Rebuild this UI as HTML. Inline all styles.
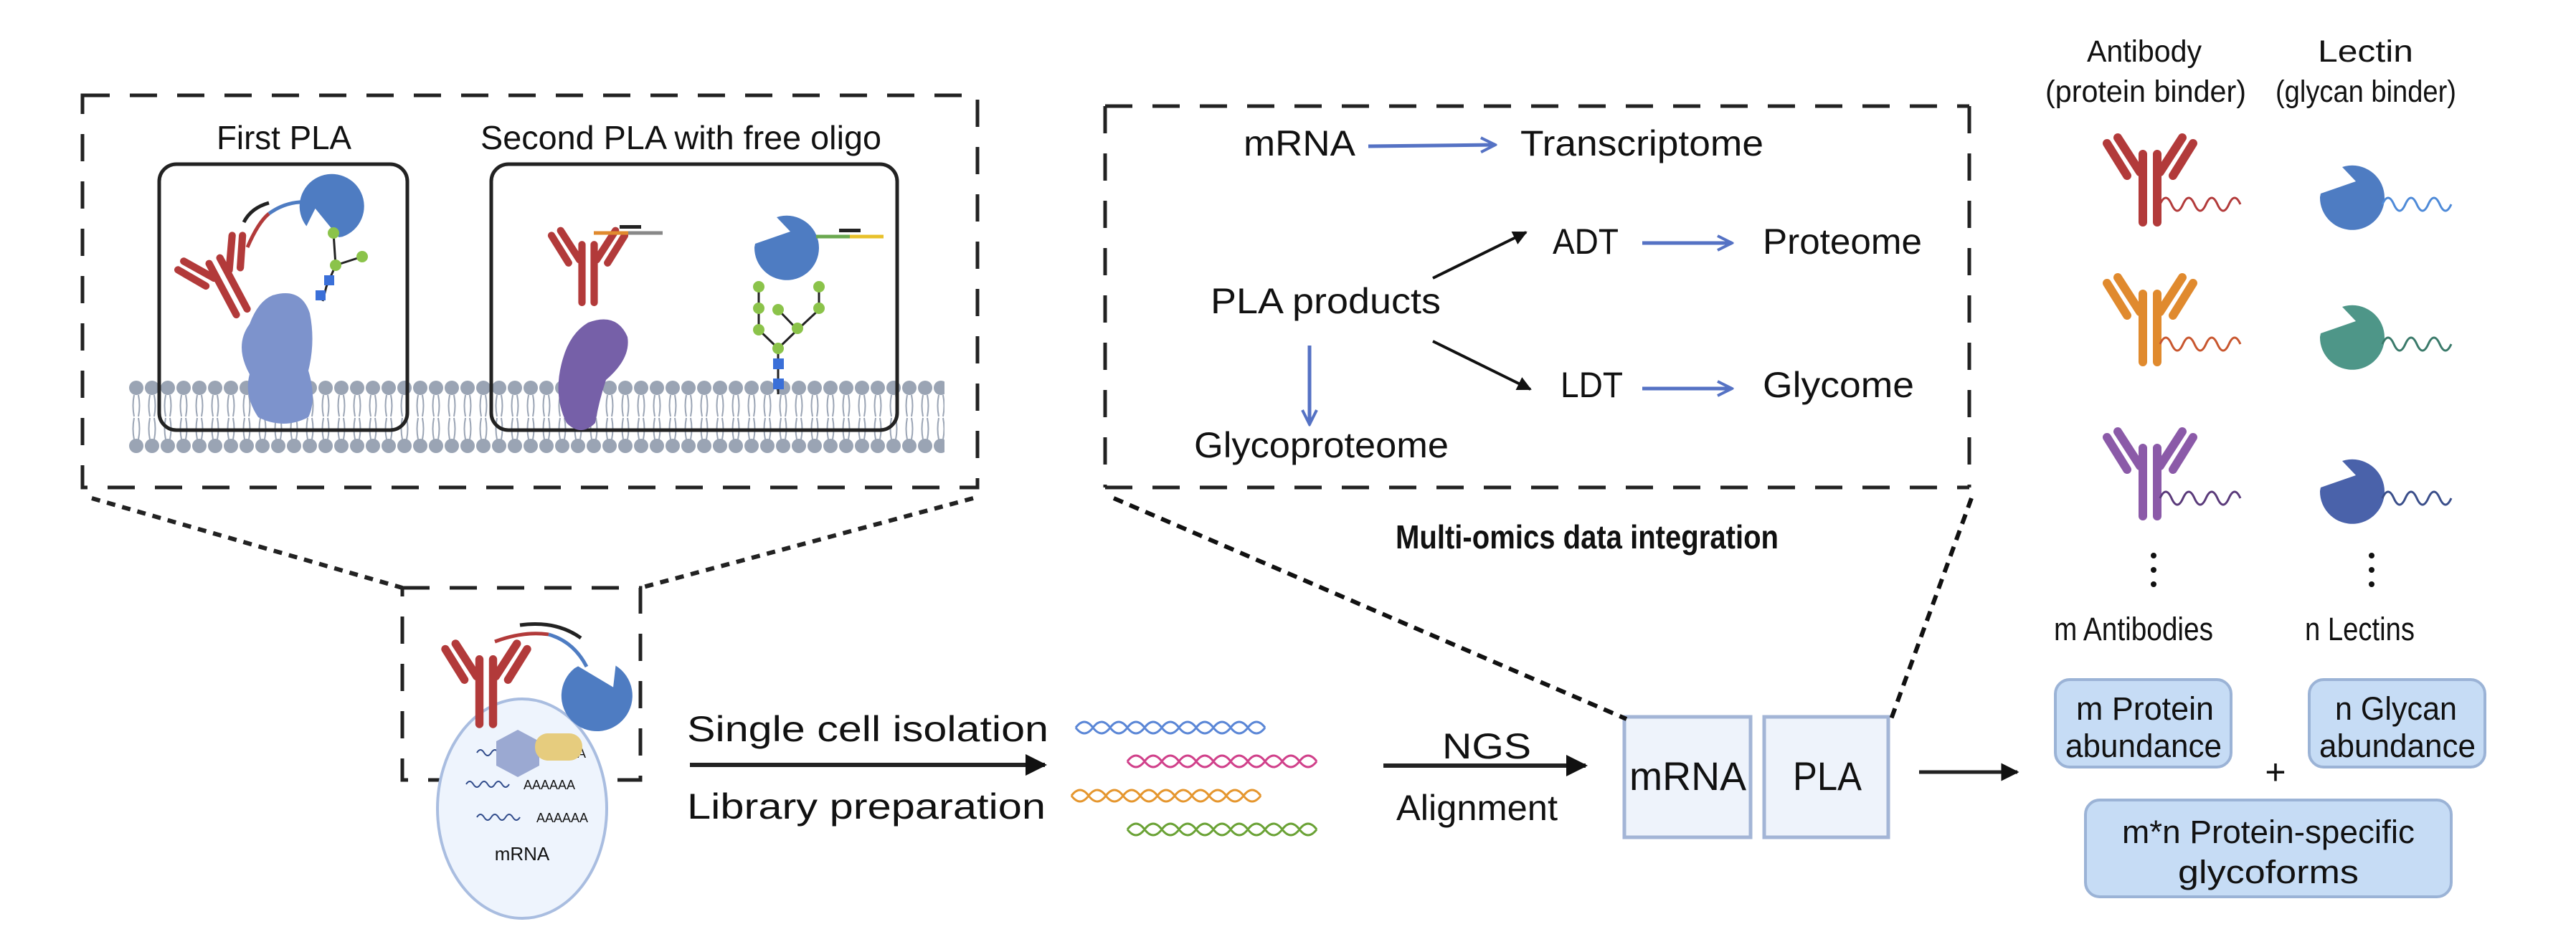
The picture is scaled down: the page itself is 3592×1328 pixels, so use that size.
<!DOCTYPE html>
<html><head><meta charset="utf-8"><style>
html,body{margin:0;padding:0;background:#fff}
svg{display:block}
text{font-family:"Liberation Sans",sans-serif;fill:#111}
</style></head><body>
<svg width="3592" height="1328" viewBox="0 0 3592 1328" xmlns="http://www.w3.org/2000/svg">
<defs>
<pattern id="lip" x="179" y="0" width="22" height="1328" patternUnits="userSpaceOnUse">
<circle cx="11" cy="541" r="10" fill="#9aa4b4"/>
<path d="M8 551 q-3 15 0 30 M14 551 q3 15 0 30" stroke="#9aa4b4" stroke-width="2" fill="none"/>
<path d="M8 583 q-3 15 0 30 M14 583 q3 15 0 30" stroke="#9aa4b4" stroke-width="2" fill="none"/>
<circle cx="11" cy="622" r="10" fill="#9aa4b4"/>
</pattern>
<marker id="ab" viewBox="0 0 10 10" refX="9" refY="5" markerWidth="5" markerHeight="5" orient="auto"><path d="M0 0L10 5L0 10z" fill="#111"/></marker>
<marker id="ob" viewBox="0 0 10 10" refX="9" refY="5" markerWidth="5" markerHeight="5" orient="auto"><path d="M1 1L9 5L1 9" fill="none" stroke="#5572c4" stroke-width="1.6"/></marker>
<g id="ab-y"><path d="M-10 0 V-95 M10 0 V-95 M-14 -70 L-45 -118 M14 -70 L45 -118 M-32 -65 L-60 -110 M32 -65 L60 -110" stroke-width="12" stroke-linecap="round" fill="none"/></g>
<path id="lect" d="M0 -45 A45 45 0 1 0 42 -14 L22 5 L5 -44 Z"/>
</defs>

<!-- left dashed panel -->
<rect x="115" y="133" width="1248" height="547" fill="none" stroke="#222" stroke-width="5" stroke-dasharray="38,28"/>
<text x="302" y="208" font-size="46" textLength="188" lengthAdjust="spacingAndGlyphs">First PLA</text>
<text x="670" y="208" font-size="46" textLength="559" lengthAdjust="spacingAndGlyphs">Second PLA with free oligo</text>
<rect x="179" y="528" width="1138" height="106" fill="url(#lip)"/>
<rect x="222" y="229" width="346" height="371" rx="24" fill="none" stroke="#222" stroke-width="5"/>
<rect x="685" y="229" width="566" height="371" rx="24" fill="none" stroke="#222" stroke-width="5"/>
<!-- first PLA illustration -->
<g><path d="M380 412 q40 -12 52 25 q8 40 -2 80 q12 40 0 65 q-35 18 -70 0 q-20 -30 -12 -60 q-22 -40 0 -70 q12 -32 32 -40z" fill="#7d93cc"/></g>
<g stroke="#b23a3a" transform="translate(345,450) rotate(-28) scale(0.85) translate(0,-20)"><use href="#ab-y"/></g>
<path d="M345 345 Q360 310 375 298" stroke="#b23a3a" stroke-width="5" fill="none"/>
<path d="M375 298 Q400 280 430 282" stroke="#4e7cc2" stroke-width="5" fill="none"/>
<path d="M340 310 Q350 290 375 283" stroke="#222" stroke-width="5" fill="none"/>
<g fill="#4e7cc2"><use href="#lect" transform="translate(462,288) rotate(160)"/></g>
<path d="M465 325 L468 370 L505 358 M468 370 L455 400 L450 420" stroke="#222" stroke-width="3" fill="none"/>
<circle cx="465" cy="325" r="8" fill="#8bc34a"/><circle cx="505" cy="358" r="8" fill="#8bc34a"/><circle cx="468" cy="370" r="8" fill="#8bc34a"/>
<rect x="440" y="405" width="14" height="14" fill="#3a6fd8"/><rect x="452" y="384" width="14" height="14" fill="#3a6fd8"/>
<!-- second PLA -->
<path d="M820 450 q40 -15 55 20 q5 30 -30 60 q-10 30 -15 60 q-20 20 -40 0 q-20 -40 -5 -90 q10 -35 35 -50z" fill="#7660a8"/>
<g stroke="#b23a3a" transform="translate(820,422) scale(0.85)"><use href="#ab-y"/></g>
<path d="M828 325 H876" stroke="#e08a2e" stroke-width="5"/><path d="M876 325 H924" stroke="#888" stroke-width="5"/><rect x="864" y="314" width="30" height="5" fill="#222"/>
<g fill="#4e7cc2"><use href="#lect" transform="translate(1097,345) rotate(-90)"/></g>
<path d="M1138 330 H1185" stroke="#6aa84f" stroke-width="5"/><path d="M1185 330 H1232" stroke="#e8c12a" stroke-width="5"/><rect x="1170" y="319" width="30" height="5" fill="#222"/>
<path d="M1058 400 V460 L1085 486 L1112 460 L1142 432 V400 M1112 460 L1085 432 M1085 486 V550" stroke="#222" stroke-width="3" fill="none"/>
<g fill="#8bc34a"><circle cx="1058" cy="400" r="8"/><circle cx="1058" cy="430" r="8"/><circle cx="1058" cy="460" r="8"/><circle cx="1085" cy="432" r="8"/><circle cx="1112" cy="458" r="8"/><circle cx="1142" cy="400" r="8"/><circle cx="1142" cy="430" r="8"/><circle cx="1085" cy="486" r="8"/></g>
<rect x="1078" y="500" width="15" height="15" fill="#3a6fd8"/><rect x="1078" y="528" width="15" height="15" fill="#3a6fd8"/>

<!-- zoom lines -->
<path d="M128 695 L561 820 M1357 695 L893 820" stroke="#222" stroke-width="6" stroke-dasharray="12,10" fill="none"/>
<rect x="561" y="820" width="332" height="268" fill="none" stroke="#222" stroke-width="5" stroke-dasharray="38,28"/>
<!-- cell -->
<ellipse cx="728" cy="1128" rx="118" ry="153" fill="#eef4fd" stroke="#a9bde0" stroke-width="4"/>
<g fill="none" stroke="#2f4a8a" stroke-width="2">
<path d="M665 1050 q5 -8 10 0 t10 0 t10 0 t10 0 t10 0 t10 0"/><path d="M650 1094 q5 -8 10 0 t10 0 t10 0 t10 0 t10 0 t10 0"/><path d="M665 1140 q5 -8 10 0 t10 0 t10 0 t10 0 t10 0 t10 0"/></g>
<text x="745" y="1057" font-size="18" fill="#2f4a8a">AAAAAA</text><text x="730" y="1101" font-size="18" fill="#2f4a8a">AAAAAA</text><text x="748" y="1147" font-size="18" fill="#2f4a8a">AAAAAA</text>
<text x="728" y="1200" font-size="26" text-anchor="middle" fill="#2f4a8a">mRNA</text>
<polygon points="722,1018 752,1034 752,1068 722,1084 692,1068 692,1034" fill="#9ba9d2"/>
<rect x="746" y="1023" width="66" height="38" rx="18" fill="#e6cc7e"/>
<g stroke="#b23a3a" transform="translate(678,1010) scale(0.95)"><use href="#ab-y"/></g>
<path d="M690 895 Q730 880 765 885" stroke="#b23a3a" stroke-width="5" fill="none"/><path d="M765 885 Q800 895 818 930" stroke="#4e7cc2" stroke-width="5" fill="none"/>
<path d="M725 872 Q775 865 810 890" stroke="#222" stroke-width="5" fill="none"/>
<g fill="#4e7cc2"><use href="#lect" transform="translate(833,970) rotate(-40) scale(1.1)"/></g>

<!-- step 1 -->
<text x="958" y="1034" font-size="50" textLength="504" lengthAdjust="spacingAndGlyphs">Single cell isolation</text>
<line x1="962" y1="1067" x2="1457" y2="1067" stroke="#222" stroke-width="6" marker-end="url(#ab)"/>
<text x="958" y="1142" font-size="50" textLength="500" lengthAdjust="spacingAndGlyphs">Library preparation</text>
<!-- dna -->
<g fill="none" stroke-width="3">
<path d="M1500 1015 q12 -16 24 0 t24 0 t24 0 t24 0 t24 0 t24 0 t24 0 t24 0 t24 0 t24 0 t24 0 M1500 1015 q12 16 24 0 t24 0 t24 0 t24 0 t24 0 t24 0 t24 0 t24 0 t24 0 t24 0 t24 0" stroke="#5a86d6"/>
<path d="M1572 1062 q12 -16 24 0 t24 0 t24 0 t24 0 t24 0 t24 0 t24 0 t24 0 t24 0 t24 0 t24 0 M1572 1062 q12 16 24 0 t24 0 t24 0 t24 0 t24 0 t24 0 t24 0 t24 0 t24 0 t24 0 t24 0" stroke="#d0408a"/>
<path d="M1494 1110 q12 -16 24 0 t24 0 t24 0 t24 0 t24 0 t24 0 t24 0 t24 0 t24 0 t24 0 t24 0 M1494 1110 q12 16 24 0 t24 0 t24 0 t24 0 t24 0 t24 0 t24 0 t24 0 t24 0 t24 0 t24 0" stroke="#e5962e"/>
<path d="M1572 1157 q12 -16 24 0 t24 0 t24 0 t24 0 t24 0 t24 0 t24 0 t24 0 t24 0 t24 0 t24 0 M1572 1157 q12 16 24 0 t24 0 t24 0 t24 0 t24 0 t24 0 t24 0 t24 0 t24 0 t24 0 t24 0" stroke="#6aa235"/>
</g>
<!-- step 2 -->
<text x="2011" y="1058" font-size="50" textLength="124" lengthAdjust="spacingAndGlyphs">NGS</text>
<line x1="1929" y1="1068" x2="2211" y2="1068" stroke="#222" stroke-width="6" marker-end="url(#ab)"/>
<text x="1947" y="1144" font-size="50" textLength="225" lengthAdjust="spacingAndGlyphs">Alignment</text>
<rect x="2265" y="1000" width="176" height="168" fill="#eef3fb" stroke="#a3b5d6" stroke-width="5"/>
<text x="2272" y="1102" font-size="56" textLength="163" lengthAdjust="spacingAndGlyphs">mRNA</text>
<rect x="2460" y="1000" width="173" height="168" fill="#eef3fb" stroke="#a3b5d6" stroke-width="5"/>
<text x="2500" y="1102" font-size="56" textLength="96" lengthAdjust="spacingAndGlyphs">PLA</text>
<line x1="2676" y1="1077" x2="2813" y2="1077" stroke="#222" stroke-width="5" marker-end="url(#ab)"/>
<path d="M1553 695 L2268 1003 M2749 695 L2637 1003" stroke="#111" stroke-width="6" stroke-dasharray="14,10" fill="none"/>

<!-- right dashed panel -->
<path d="M1541 148 H2746 M2746 148 V680 M1541 680 H2746 M1541 148 V680" fill="none" stroke="#222" stroke-width="5" stroke-dasharray="38,28"/>
<text x="1734" y="217" font-size="50" textLength="156" lengthAdjust="spacingAndGlyphs">mRNA</text>
<line x1="1908" y1="204" x2="2085" y2="202" stroke="#5572c4" stroke-width="5" marker-end="url(#ob)"/>
<text x="2120" y="217" font-size="50" textLength="339" lengthAdjust="spacingAndGlyphs">Transcriptome</text>
<text x="1688" y="437" font-size="50" textLength="321" lengthAdjust="spacingAndGlyphs">PLA products</text>
<line x1="1998" y1="388" x2="2128" y2="324" stroke="#111" stroke-width="4" marker-end="url(#ab)"/>
<line x1="1998" y1="476" x2="2134" y2="543" stroke="#111" stroke-width="4" marker-end="url(#ab)"/>
<text x="2165" y="354" font-size="50" textLength="92" lengthAdjust="spacingAndGlyphs">ADT</text>
<text x="2176" y="554" font-size="50" textLength="87" lengthAdjust="spacingAndGlyphs">LDT</text>
<line x1="2290" y1="339" x2="2415" y2="339" stroke="#5572c4" stroke-width="5" marker-end="url(#ob)"/>
<line x1="2290" y1="542" x2="2415" y2="542" stroke="#5572c4" stroke-width="5" marker-end="url(#ob)"/>
<text x="2458" y="354" font-size="50" textLength="222" lengthAdjust="spacingAndGlyphs">Proteome</text>
<text x="2458" y="554" font-size="50" textLength="211" lengthAdjust="spacingAndGlyphs">Glycome</text>
<line x1="1826" y1="482" x2="1826" y2="592" stroke="#5572c4" stroke-width="5" marker-end="url(#ob)"/>
<text x="1665" y="638" font-size="50" textLength="355" lengthAdjust="spacingAndGlyphs">Glycoproteome</text>
<text x="1946" y="765" font-size="46" font-weight="bold" textLength="534" lengthAdjust="spacingAndGlyphs">Multi-omics data integration</text>

<!-- right column -->
<text x="2910" y="86" font-size="43" textLength="160" lengthAdjust="spacingAndGlyphs">Antibody</text>
<text x="2852" y="142" font-size="43" textLength="280" lengthAdjust="spacingAndGlyphs">(protein binder)</text>
<text x="3232" y="86" font-size="43" textLength="133" lengthAdjust="spacingAndGlyphs">Lectin</text>
<text x="3173" y="142" font-size="43" textLength="252" lengthAdjust="spacingAndGlyphs">(glycan binder)</text>
<g stroke="#b23a3a" transform="translate(2998,310)"><use href="#ab-y"/></g>
<path d="M3012 285 q8 -18 16 0 t16 0 t16 0 t16 0 t16 0 t16 0 t16 0" stroke="#b23a3a" stroke-width="3" fill="none"/>
<g stroke="#e08a2e" transform="translate(2998,505)"><use href="#ab-y"/></g>
<path d="M3012 480 q8 -18 16 0 t16 0 t16 0 t16 0 t16 0 t16 0 t16 0" stroke="#c8562e" stroke-width="3" fill="none"/>
<g stroke="#8b5aa8" transform="translate(2998,720)"><use href="#ab-y"/></g>
<path d="M3012 695 q8 -18 16 0 t16 0 t16 0 t16 0 t16 0 t16 0 t16 0" stroke="#5a3a7a" stroke-width="3" fill="none"/>
<g fill="#4e7cc2"><use href="#lect" transform="translate(3280,275) rotate(-90)"/></g>
<path d="M3322 285 q8 -18 16 0 t16 0 t16 0 t16 0 t16 0 t16 0" stroke="#4e8ad8" stroke-width="3" fill="none"/>
<g fill="#4e9688"><use href="#lect" transform="translate(3280,470) rotate(-90)"/></g>
<path d="M3322 480 q8 -18 16 0 t16 0 t16 0 t16 0 t16 0 t16 0" stroke="#3a7a6a" stroke-width="3" fill="none"/>
<g fill="#4a62aa"><use href="#lect" transform="translate(3280,685) rotate(-90)"/></g>
<path d="M3322 695 q8 -18 16 0 t16 0 t16 0 t16 0 t16 0 t16 0" stroke="#3a4e8a" stroke-width="3" fill="none"/>
<g fill="#111"><circle cx="3003" cy="775" r="4"/><circle cx="3003" cy="795" r="4"/><circle cx="3003" cy="815" r="4"/><circle cx="3307" cy="775" r="4"/><circle cx="3307" cy="795" r="4"/><circle cx="3307" cy="815" r="4"/></g>
<text x="2864" y="893" font-size="45" textLength="222" lengthAdjust="spacingAndGlyphs">m Antibodies</text>
<text x="3214" y="893" font-size="45" textLength="153" lengthAdjust="spacingAndGlyphs">n Lectins</text>
<rect x="2866" y="948" width="245" height="122" rx="20" fill="#c6dcf5" stroke="#9bb3d6" stroke-width="4"/>
<text x="2895" y="1004" font-size="45" textLength="192" lengthAdjust="spacingAndGlyphs">m Protein</text><text x="2880" y="1056" font-size="45" textLength="218" lengthAdjust="spacingAndGlyphs">abundance</text>
<rect x="3220" y="948" width="245" height="122" rx="20" fill="#c6dcf5" stroke="#9bb3d6" stroke-width="4"/>
<text x="3256" y="1004" font-size="45" textLength="170" lengthAdjust="spacingAndGlyphs">n Glycan</text><text x="3234" y="1056" font-size="45" textLength="218" lengthAdjust="spacingAndGlyphs">abundance</text>
<text x="3173" y="1094" font-size="50" text-anchor="middle">+</text>
<rect x="2908" y="1116" width="510" height="135" rx="20" fill="#c6dcf5" stroke="#9bb3d6" stroke-width="4"/>
<text x="2959" y="1176" font-size="45" textLength="408" lengthAdjust="spacingAndGlyphs">m*n Protein-specific</text><text x="3037" y="1232" font-size="45" textLength="252" lengthAdjust="spacingAndGlyphs">glycoforms</text>
</svg>
</body></html>
